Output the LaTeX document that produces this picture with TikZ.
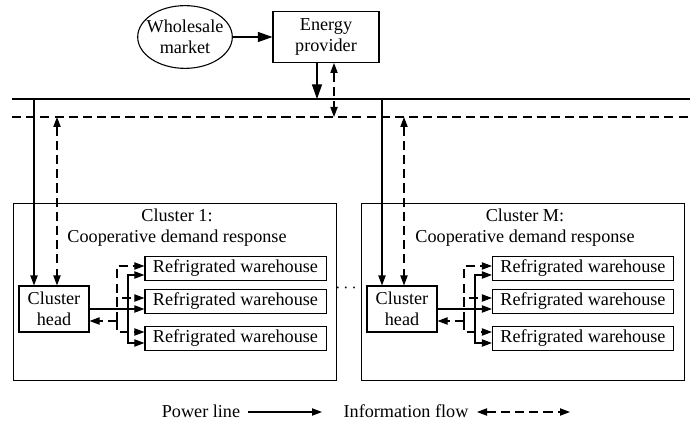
\documentclass[tikz,border=0pt]{standalone}
\usepackage{fontspec}
\setmainfont{Liberation Serif}
\usetikzlibrary{arrows.meta,positioning,calc,shapes.geometric}

\begin{document}
\begin{tikzpicture}[
    x=0.55pt, y=-0.55pt,
    font=\fontsize{10}{11.5}\selectfont,
    box/.style={rectangle, draw, line width=0.6pt, align=center, inner sep=1pt},
    whbox/.style={box, minimum width=99.6pt, minimum height=13.2pt},
    headbox/.style={box, minimum width=38.5pt, minimum height=25.3pt},
    cluster/.style={rectangle, draw, line width=0.6pt, minimum width=178pt, minimum height=97pt},
    bus/.style={line width=0.6pt},
    infobus/.style={bus, dash pattern=on 5pt off 2.8pt},
    arrow/.style={->, >={Triangle[length=5.5pt,width=4pt]}, line width=0.6pt},
    bigarrow/.style={arrow, >={Triangle[length=8pt,width=5.5pt]}},
    info/.style={arrow, <->, dash pattern=on 5pt off 2.8pt}
]
    \useasboundingbox (0,0) rectangle (690,428);

    % top: market and provider
    \node[ellipse, draw, line width=0.6pt, align=center, inner xsep=-2.7pt, inner ysep=0pt,
          minimum width=52pt, minimum height=34.5pt] (market) at (185,37) {Wholesale\\market};
    \node[box, minimum width=58.3pt, minimum height=28pt] (provider) at (326,37) {Energy\\provider};
    \draw[bigarrow] (market) -- (provider);

    % power line and information line
    \coordinate (pw) at (12,99);
    \coordinate (pe) at (690,99);
    \coordinate (iw) at (12,117);
    \coordinate (ie) at (690,117);
    \draw[bus] (pw) -- (pe);
    \draw[infobus] (iw) -- (ie);

    \coordinate (pdown) at ($(provider.south)+(-9,0)$);
    \coordinate (idown) at ($(provider.south)+(8,0)$);
    \draw[bigarrow] (pdown) -- (pdown |- pw);
    \draw[info] (idown) -- (idown |- iw);

    % cluster 1
    \node[cluster] (clus1) at (175,292) {};
    \node[align=center] (title1) at (177,228) {Cluster 1:\\Cooperative demand response};
    \node[headbox] (head1) at (54,309) {Cluster\\head};
    \node[whbox] (wh11) at (235.5,268.5) {Refrigrated warehouse};
    \node[whbox] (wh12) at (235.5,301.5) {Refrigrated warehouse};
    \node[whbox] (wh13) at (235.5,338.5) {Refrigrated warehouse};

    \coordinate (p1) at (34,99);
    \coordinate (i1) at (57,117);
    \draw[arrow] (p1) -- (p1 |- head1.north);
    \draw[info] (i1) -- (i1 |- head1.north);

    \coordinate (sb1) at (128,309);
    \coordinate (db1) at (117,321);
    \draw[arrow] (head1.east) -- (head1.east -| wh12.west);
    \draw[arrow] (sb1) |- ($(wh11.west)+(0,6.5)$);
    \draw[arrow] (sb1) |- ($(wh13.west)+(0,4.5)$);
    \draw[info, ->] (db1) -- (db1 -| head1.east);
    \draw[info, ->] (db1) |- ($(wh11.west)+(0,-2.5)$);
    \draw[info, ->] (db1) |- ($(wh12.west)+(0,-3.5)$);
    \draw[info, ->] (db1) |- ($(wh13.west)+(0,-6.5)$);

    \node (dots) at (346,288) {$\cdots$};

    % cluster M
    \node[cluster] (clusM) at (523,292) {};
    \node[align=center] (titleM) at (525,228) {Cluster M:\\Cooperative demand response};
    \node[headbox] (headM) at (402,309) {Cluster\\head};
    \node[whbox] (whM1) at (583,268.5) {Refrigrated warehouse};
    \node[whbox] (whM2) at (583,301.5) {Refrigrated warehouse};
    \node[whbox] (whM3) at (583,338.5) {Refrigrated warehouse};

    \coordinate (pM) at (382,99);
    \coordinate (iM) at (404,117);
    \draw[arrow] (pM) -- (pM |- headM.north);
    \draw[info] (iM) -- (iM |- headM.north);

    \coordinate (sbM) at (475,309);
    \coordinate (dbM) at (464,321);
    \draw[arrow] (headM.east) -- (headM.east -| whM2.west);
    \draw[arrow] (sbM) |- ($(whM1.west)+(0,6.5)$);
    \draw[arrow] (sbM) |- ($(whM3.west)+(0,4.5)$);
    \draw[info, ->] (dbM) -- (dbM -| headM.east);
    \draw[info, ->] (dbM) |- ($(whM1.west)+(0,-2.5)$);
    \draw[info, ->] (dbM) |- ($(whM2.west)+(0,-3.5)$);
    \draw[info, ->] (dbM) |- ($(whM3.west)+(0,-6.5)$);

    % legend
    \node (lgpower) at (201,411) {Power line};
    \coordinate (lgpa) at (248,412);
    \coordinate (lgpb) at (322,412);
    \draw[arrow] (lgpa) -- (lgpb);
    \node (lginfo) at (406,411) {Information flow};
    \coordinate (lgia) at (477,412);
    \coordinate (lgib) at (570,412);
    \draw[info] (lgia) -- (lgib);
\end{tikzpicture}
\end{document}
